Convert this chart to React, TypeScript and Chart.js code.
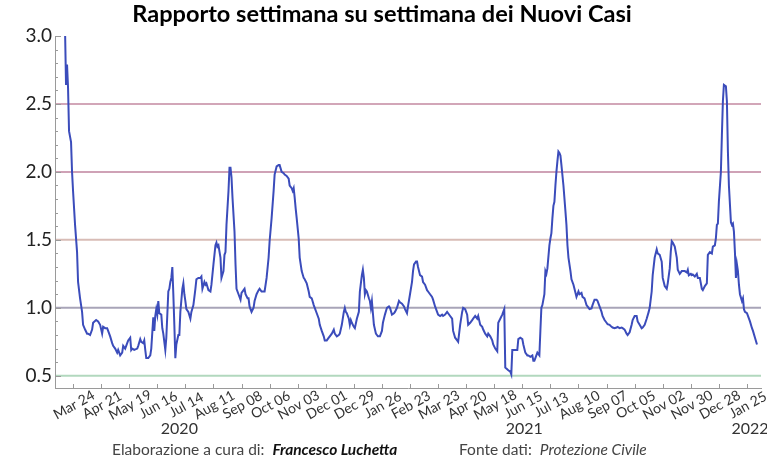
import { useEffect, useRef } from 'react';
import { Chart, registerables } from 'chart.js';

Chart.register(...registerables);

// days since 2020-03-24
const dayOffsets = [
  -8, -7, -6, -5, -4, -2, -1, 0, 2, 4, 5, 7, 9, 10, 12, 14, 15, 17, 19, 20, 23, 25, 27, 29, 30, 32, 34, 35, 37, 39,
  40, 42, 44, 45, 47, 49, 50, 52, 54, 55, 57, 58, 59, 61, 64, 65, 67, 68, 70, 71, 72, 73, 75, 77, 78, 80, 81, 82, 83, 84,
  85, 86, 88, 89, 90, 92, 93, 95, 96, 97, 98, 99, 100, 101, 102, 103, 105, 106, 107, 109, 110, 111, 112, 113, 115, 117, 118, 120, 122, 123,
  125, 127, 128, 129, 131, 132, 133, 135, 137, 138, 140, 142, 143, 144, 145, 147, 148, 150, 151, 152, 153, 155, 156, 157, 158, 159, 161, 162, 163, 165,
  167, 168, 170, 171, 172, 174, 175, 176, 178, 180, 181, 183, 185, 186, 188, 190, 191, 193, 195, 196, 198, 200, 201, 203, 205, 206, 208, 210, 211, 213,
  215, 216, 218, 219, 220, 221, 222, 223, 225, 226, 228, 230, 231, 233, 235, 236, 238, 240, 241, 243, 245, 246, 248, 250, 251, 253, 255, 256, 258, 260,
  261, 263, 265, 266, 268, 270, 271, 272, 273, 275, 276, 277, 278, 280, 281, 283, 285, 286, 288, 289, 290, 291, 292, 293, 295, 296, 297, 298, 299, 300,
  302, 303, 304, 306, 308, 309, 311, 313, 315, 316, 318, 320, 321, 323, 325, 326, 328, 330, 331, 333, 334, 336, 338, 339, 340, 342, 343, 344, 346, 348,
  349, 351, 353, 354, 356, 358, 359, 361, 363, 364, 366, 368, 369, 371, 373, 374, 376, 378, 379, 381, 383, 384, 386, 388, 389, 391, 393, 394, 396, 398,
  399, 401, 403, 404, 406, 408, 409, 411, 413, 414, 416, 418, 419, 421, 423, 424, 426, 428, 429, 430, 431, 434, 436, 437, 438, 440, 442, 443, 444, 446,
  448, 449, 451, 453, 454, 456, 458, 459, 460, 461, 463, 465, 466, 467, 468, 470, 471, 472, 473, 475, 476, 477, 478, 479, 480, 481, 482, 483, 484, 485,
  486, 487, 489, 491, 492, 493, 494, 496, 497, 499, 500, 502, 504, 505, 507, 508, 510, 512, 513, 515, 517, 518, 520, 522, 523, 525, 527, 528, 530, 532,
  533, 535, 537, 538, 540, 542, 543, 545, 547, 548, 550, 552, 553, 555, 557, 558, 560, 562, 563, 565, 567, 568, 570, 572, 574, 575, 577, 578, 580, 582,
  583, 585, 587, 588, 590, 592, 593, 595, 596, 597, 598, 600, 602, 603, 605, 607, 608, 610, 612, 613, 614, 616, 617, 618, 620, 622, 623, 625, 627, 628,
  630, 632, 633, 635, 637, 638, 640, 641, 642, 643, 644, 646, 647, 648, 649, 651, 652, 653, 654, 656, 657, 658, 659, 660, 661, 662, 663, 664, 665, 667,
  668, 669, 670, 672, 673, 675, 677, 678, 680, 682,
];

const ratios = [
  3.05, 2.64, 2.79, 2.62, 2.30, 2.22, 2.00, 1.86, 1.61, 1.41, 1.19, 1.07, 0.97, 0.875, 0.84, 0.81, 0.81, 0.80, 0.84, 0.89, 0.91, 0.90, 0.875, 0.81, 0.86, 0.85, 0.85, 0.83, 0.79, 0.74,
  0.72, 0.70, 0.67, 0.69, 0.65, 0.67, 0.72, 0.70, 0.74, 0.76, 0.78, 0.69, 0.70, 0.69, 0.70, 0.72, 0.77, 0.75, 0.74, 0.76, 0.69, 0.63, 0.63, 0.65, 0.70, 0.93, 0.83, 0.94, 0.99, 0.95,
  1.05, 0.96, 0.95, 0.85, 0.81, 0.69, 0.78, 1.12, 1.14, 1.19, 1.22, 1.30, 1.10, 0.875, 0.63, 0.73, 0.80, 0.80, 0.97, 1.14, 1.18, 1.10, 1.05, 0.99, 0.97, 0.92, 0.97, 1.02, 1.14, 1.21,
  1.22, 1.22, 1.23, 1.14, 1.19, 1.17, 1.18, 1.13, 1.12, 1.17, 1.32, 1.46, 1.48, 1.45, 1.46, 1.37, 1.22, 1.27, 1.39, 1.41, 1.61, 1.86, 2.03, 2.03, 1.96, 1.81, 1.56, 1.32, 1.14, 1.10,
  1.06, 1.11, 1.13, 1.14, 1.10, 1.07, 1.07, 1.01, 0.97, 1.00, 1.05, 1.10, 1.13, 1.14, 1.12, 1.12, 1.12, 1.22, 1.37, 1.49, 1.66, 1.86, 1.98, 2.04, 2.05, 2.05, 2.00, 1.99, 1.98, 1.97,
  1.95, 1.90, 1.88, 1.86, 1.88, 1.81, 1.73, 1.66, 1.51, 1.37, 1.27, 1.22, 1.21, 1.18, 1.12, 1.08, 1.07, 1.02, 1.00, 0.96, 0.92, 0.875, 0.83, 0.79, 0.76, 0.76, 0.78, 0.79, 0.81, 0.84,
  0.81, 0.79, 0.80, 0.81, 0.875, 0.97, 1.00, 0.97, 0.96, 0.92, 0.875, 0.91, 0.89, 0.86, 0.85, 0.92, 0.97, 1.12, 1.24, 1.28, 1.22, 1.10, 1.13, 1.12, 1.07, 1.05, 1.00, 1.05, 0.96, 0.875,
  0.81, 0.80, 0.79, 0.79, 0.83, 0.89, 0.95, 1.00, 1.01, 1.00, 0.95, 0.96, 0.97, 1.00, 1.05, 1.04, 1.03, 1.01, 0.99, 0.96, 1.01, 1.10, 1.19, 1.27, 1.32, 1.34, 1.34, 1.30, 1.24, 1.23,
  1.19, 1.17, 1.13, 1.12, 1.10, 1.08, 1.06, 1.01, 0.97, 0.95, 0.94, 0.95, 0.94, 0.95, 0.97, 0.96, 0.94, 0.92, 0.83, 0.78, 0.76, 0.75, 0.875, 0.97, 1.00, 0.99, 0.95, 0.875, 0.89, 0.91,
  0.92, 0.94, 0.92, 0.94, 0.875, 0.86, 0.84, 0.81, 0.79, 0.81, 0.79, 0.76, 0.73, 0.70, 0.68, 0.89, 0.92, 0.95, 0.97, 0.99, 0.56, 0.54, 0.53, 0.51, 0.69, 0.69, 0.69, 0.69, 0.77, 0.78,
  0.77, 0.73, 0.67, 0.65, 0.65, 0.64, 0.65, 0.61, 0.61, 0.63, 0.67, 0.65, 0.83, 1.00, 1.02, 1.10, 1.27, 1.25, 1.29, 1.46, 1.51, 1.55, 1.66, 1.75, 1.78, 1.90, 2.00, 2.08, 2.15, 2.14,
  2.12, 2.05, 1.90, 1.71, 1.61, 1.46, 1.37, 1.27, 1.21, 1.17, 1.14, 1.08, 1.12, 1.10, 1.11, 1.08, 1.07, 1.02, 1.01, 0.99, 0.995, 1.02, 1.06, 1.06, 1.05, 1.01, 0.97, 0.94, 0.91, 0.89,
  0.88, 0.875, 0.86, 0.855, 0.85, 0.855, 0.86, 0.85, 0.855, 0.85, 0.84, 0.81, 0.80, 0.82, 0.875, 0.91, 0.94, 0.94, 0.90, 0.875, 0.85, 0.855, 0.875, 0.92, 0.97, 1.00, 1.12, 1.24, 1.37, 1.43,
  1.40, 1.39, 1.34, 1.22, 1.16, 1.14, 1.18, 1.29, 1.41, 1.49, 1.48, 1.45, 1.37, 1.28, 1.25, 1.27, 1.27, 1.27, 1.26, 1.28, 1.24, 1.25, 1.24, 1.245, 1.23, 1.25, 1.22, 1.22, 1.14, 1.13,
  1.16, 1.18, 1.39, 1.41, 1.40, 1.45, 1.46, 1.51, 1.61, 1.62, 1.78, 2.00, 2.27, 2.52, 2.64, 2.63, 2.52, 2.15, 1.90, 1.63, 1.61, 1.62, 1.56, 1.41, 1.22, 1.32, 1.27, 1.17, 1.10, 1.05,
  1.07, 0.99, 0.97, 0.96, 0.94, 0.90, 0.85, 0.83, 0.78, 0.73,
];

const tickDays = [0, 28, 56, 84, 112, 140, 168, 196, 224, 252, 280, 308, 336, 364, 392, 420, 448, 476, 504, 532, 560, 588, 616, 644, 672];
const tickLabels = [
  'Mar 24', 'Apr 21', 'May 19', 'Jun 16', 'Jul 14', 'Aug 11', 'Sep 08', 'Oct 06', 'Nov 03', 'Dec 01', 'Dec 29', 'Jan 26', 'Feb 23',
  'Mar 23', 'Apr 20', 'May 18', 'Jun 15', 'Jul 13', 'Aug 10', 'Sep 07', 'Oct 05', 'Nov 02', 'Nov 30', 'Dec 28', 'Jan 25',
];
const yearLabels = ['2020', '2021', '2022'];
const yearDays = [106, 450, 675];
const yTickValues = [0.5, 1.0, 1.5, 2.0, 2.5, 3.0];
const refLevels = [0.5, 1.0, 1.5, 2.0, 2.5];
const refColors = ['#b2d8be', '#a8a4b8', '#d8bcb6', '#cfa2b6', '#d2a6b8'];

const TITLE = 'Rapporto settimana su settimana dei Nuovi Casi';
const FONT = 'Lato, "Open Sans", sans-serif';

function fitFont(ctx: CanvasRenderingContext2D, text: string, style: string, base: number, target: number) {
  ctx.font = `${style} ${base}px ${FONT}`;
  const w = ctx.measureText(text).width;
  let size = base * target / w;
  size = Math.max(base * 0.7, Math.min(base * 1.3, size));
  ctx.font = `${style} ${size}px ${FONT}`;
}

const decor = {
  id: 'decor',
  beforeDatasetsDraw(chart: any) {
    const { ctx, chartArea, scales } = chart;
    const y = scales.y;
    ctx.save();
    refLevels.forEach((v, i) => {
      const py = y.getPixelForValue(v);
      ctx.strokeStyle = refColors[i];
      ctx.lineWidth = 2;
      ctx.beginPath();
      ctx.moveTo(chartArea.left + 1, py);
      ctx.lineTo(chartArea.right, py);
      ctx.stroke();
    });
    ctx.restore();
  },
  afterDraw(chart: any) {
    const { ctx, chartArea, scales } = chart;
    const x = scales.x;
    const y = scales.y;
    ctx.save();
    // y minor/major ticks (inside)
    ctx.strokeStyle = '#9a9a9a';
    ctx.lineWidth = 1;
    for (let k = 5; k <= 30; k++) {
      const py = Math.round(y.getPixelForValue(k / 10)) + 0.5;
      const len = k % 5 === 0 ? 6 : 3;
      ctx.beginPath();
      ctx.moveTo(chartArea.left, py);
      ctx.lineTo(chartArea.left + len, py);
      ctx.stroke();
    }
    // x ticks (inside)
    tickDays.forEach((d) => {
      const px = Math.round(x.getPixelForValue(d)) + 0.5;
      ctx.beginPath();
      ctx.moveTo(px, chartArea.bottom);
      ctx.lineTo(px, chartArea.bottom - 4);
      ctx.stroke();
    });
    // rotated x labels, centered on tick
    ctx.fillStyle = '#333';
    ctx.font = `14px ${FONT}`;
    ctx.textAlign = 'center';
    ctx.textBaseline = 'middle';
    tickDays.forEach((d, i) => {
      const px = x.getPixelForValue(d);
      ctx.save();
      ctx.translate(px + 1, chartArea.bottom + 17);
      ctx.rotate(-29 * Math.PI / 180);
      ctx.fillText(tickLabels[i], 0, 0);
      ctx.restore();
    });
    // year labels
    ctx.font = `16px ${FONT}`;
    ctx.fillStyle = '#333';
    yearDays.forEach((d, i) => {
      ctx.fillText(yearLabels[i], x.getPixelForValue(d), 429);
    });
    // title
    ctx.fillStyle = '#000';
    ctx.textAlign = 'center';
    fitFont(ctx, TITLE, 'bold', 21, 500);
    ctx.fillText(TITLE, 382, 14);
    // footer
    ctx.textAlign = 'left';
    ctx.textBaseline = 'alphabetic';
    const gap = 8;
    ctx.fillStyle = '#444';
    ctx.font = `15.5px ${FONT}`;
    const t1 = 'Elaborazione a cura di:';
    ctx.fillText(t1, 112, 455);
    const x2 = 112 + ctx.measureText(t1).width + gap;
    ctx.fillStyle = '#111';
    ctx.font = `italic bold 15.5px ${FONT}`;
    ctx.fillText('Francesco Luchetta', x2, 455);
    ctx.fillStyle = '#444';
    ctx.font = `15.5px ${FONT}`;
    const t3 = 'Fonte dati:';
    ctx.fillText(t3, 459, 455);
    const x4 = 459 + ctx.measureText(t3).width + gap;
    ctx.font = `italic 15.5px ${FONT}`;
    ctx.fillText('Protezione Civile', x4, 455);
    ctx.restore();
  },
};

export default function App() {
  const ref = useRef<HTMLCanvasElement | null>(null);
  useEffect(() => {
    if (!ref.current) return;
    const points = dayOffsets.map((d, i) => ({ x: d, y: ratios[i] }));
    const chart = new Chart(ref.current, {
      type: 'line',
      data: {
        datasets: [
          {
            data: points,
            borderColor: '#3b4cbb',
            borderWidth: 2,
            pointRadius: 0,
            tension: 0,
            clip: 0,
          } as any,
        ],
      },
      options: {
        animation: false,
        responsive: false,
        layout: { padding: { left: 0, right: 6, top: 36, bottom: 0 } },
        plugins: { legend: { display: false }, tooltip: { enabled: false }, title: { display: false } },
        scales: {
          x: {
            type: 'linear',
            min: -18,
            max: 686,
            grid: { display: false, drawTicks: false },
            border: { display: true, color: '#9a9a9a', width: 1 },
            ticks: { display: false },
            afterFit: (s: any) => { s.height = 70; },
          },
          y: {
            type: 'linear',
            min: 0.41,
            max: 3.0,
            grid: { display: false, drawTicks: false },
            border: { display: true, color: '#9a9a9a', width: 1 },
            afterBuildTicks: (s: any) => { s.ticks = yTickValues.map((v) => ({ value: v })); },
            ticks: {
              color: '#222',
              padding: 3,
              font: { family: FONT, size: 19 },
              callback: (v: any) => Number(v).toFixed(1),
            },
            afterFit: (s: any) => { s.width = 55; },
          },
        },
      },
      plugins: [decor],
    });
    return () => chart.destroy();
  }, []);
  return (
    <div style={{ position: 'fixed', left: 0, top: 0, width: 767, height: 458, background: '#fff' }}>
      <canvas ref={ref} width={767} height={458} style={{ display: 'block' }} />
    </div>
  );
}
